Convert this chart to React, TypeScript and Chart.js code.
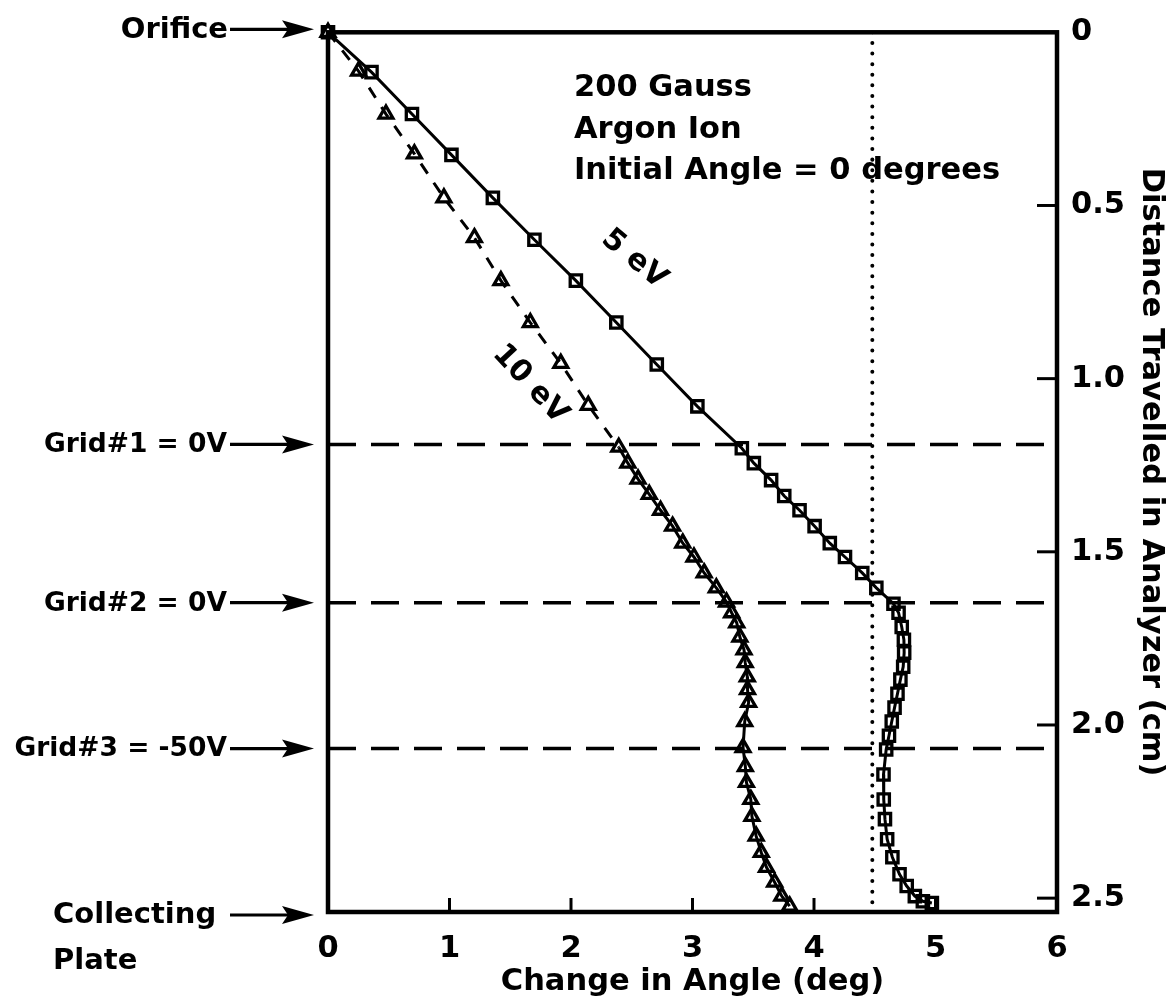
import React, { useEffect, useRef } from 'react';
import { Chart, registerables } from 'chart.js';

Chart.register(...registerables);

// ---- axes ----
const xTickValues = [0, 1, 2, 3, 4, 5, 6];
const yTickValues = [0, 0.5, 1.0, 1.5, 2.0, 2.5];
const xRange = [0, 6];
const yRange = [0, 2.54];

// ---- 5 eV trajectory (change in angle, deg / distance travelled, cm) ----
const ev5Angle = [
  0, 0.358, 0.691, 1.016, 1.357, 1.699, 2.04, 2.373, 2.706, 3.04,
  3.406, 3.505, 3.647, 3.755, 3.881, 4.005, 4.13, 4.255, 4.397, 4.513,
  4.654, 4.696, 4.722, 4.74, 4.742, 4.734, 4.711, 4.687, 4.663, 4.64,
  4.617, 4.594, 4.572, 4.574, 4.584, 4.602, 4.645, 4.704, 4.763, 4.83,
  4.896, 4.97,
];
const ev5Dist = [
  0, 0.115, 0.236, 0.354, 0.478, 0.599, 0.717, 0.838, 0.959, 1.08,
  1.201, 1.244, 1.293, 1.339, 1.38, 1.426, 1.475, 1.515, 1.561, 1.604,
  1.65, 1.676, 1.717, 1.754, 1.791, 1.832, 1.869, 1.91, 1.95, 1.99,
  2.031, 2.071, 2.143, 2.215, 2.272, 2.33, 2.382, 2.431, 2.465, 2.494,
  2.509, 2.514,
];

// ---- 10 eV trajectory ----
const ev10Angle = [
  0, 0.251, 0.477, 0.711, 0.954, 1.205, 1.423, 1.665, 1.916, 2.142,
  2.393, 2.468, 2.552, 2.644, 2.737, 2.836, 2.92, 3.012, 3.096, 3.196,
  3.28, 3.322, 3.364, 3.39, 3.424, 3.434, 3.451, 3.453, 3.462, 3.43,
  3.416, 3.435, 3.444, 3.48, 3.489, 3.524, 3.566, 3.609, 3.676, 3.735,
  3.8,
];
const ev10Dist = [
  0, 0.112, 0.236, 0.351, 0.478, 0.593, 0.717, 0.838, 0.956, 1.077,
  1.198, 1.244, 1.29, 1.334, 1.38, 1.426, 1.475, 1.515, 1.561, 1.604,
  1.645, 1.676, 1.705, 1.746, 1.783, 1.82, 1.861, 1.898, 1.935, 1.99,
  2.065, 2.12, 2.166, 2.215, 2.264, 2.321, 2.368, 2.411, 2.454, 2.494,
  2.523,
];
const ev10DashedUntil = 10; // last point index of the dashed (field-free) part

// ---- grids / limit ----
const gridDist = [1.19, 1.647, 2.068];
const gridNames = ['Grid#1 = 0V', 'Grid#2 = 0V', 'Grid#3 = -50V'];
const limitAngle = [4.48];

// ---- texts ----
const infoText = ['200 Gauss', 'Argon Ion', 'Initial Angle = 0 degrees'];
const seriesNames = ['5 eV', '10 eV'];
const orificeName = 'Orifice';
const plateName = ['Collecting', 'Plate'];
const xTitle = 'Change in Angle (deg)';
const yTitle = 'Distance Travelled in Analyzer (cm)';

const FAMILY = '"DejaVu Sans", "Noto Sans", sans-serif';

function drawArrow(ctx: CanvasRenderingContext2D, x0: number, x1: number, y: number) {
  ctx.beginPath();
  ctx.lineWidth = 3.2;
  ctx.moveTo(x0, y);
  ctx.lineTo(x1 - 24, y);
  ctx.stroke();
  ctx.beginPath();
  ctx.moveTo(x1, y);
  ctx.lineTo(x1 - 32, y - 9);
  ctx.lineTo(x1 - 26, y);
  ctx.lineTo(x1 - 32, y + 9);
  ctx.closePath();
  ctx.fill();
}

const framePlugin = {
  id: 'frameAndNotes',
  afterDraw(chart: any) {
    const ctx: CanvasRenderingContext2D = chart.ctx;
    const a = chart.chartArea;
    const xs = chart.scales.x;
    const ys = chart.scales.y;
    ctx.save();
    ctx.strokeStyle = '#000';
    ctx.fillStyle = '#000';
    ctx.lineCap = 'butt';

    // frame
    ctx.lineWidth = 4.5;
    ctx.strokeRect(a.left, a.top, a.right - a.left, a.bottom - a.top);

    // inward tick marks
    ctx.lineWidth = 3;
    xTickValues.slice(1, -1).forEach((v) => {
      const px = xs.getPixelForValue(v);
      ctx.beginPath();
      ctx.moveTo(px, a.bottom);
      ctx.lineTo(px, a.bottom - 14);
      ctx.stroke();
    });
    yTickValues.slice(1).forEach((v) => {
      const py = ys.getPixelForValue(v);
      ctx.beginPath();
      ctx.moveTo(a.right, py);
      ctx.lineTo(a.right - 20, py);
      ctx.stroke();
    });

    // info block
    ctx.font = `bold 30.5px ${FAMILY}`;
    ctx.textAlign = 'left';
    ctx.textBaseline = 'alphabetic';
    infoText.forEach((t, i) => ctx.fillText(t, a.left + 246, a.top + 64 + i * 41.5));

    // series labels (rotated)
    const rot = [40, 47];
    const pos = [
      [a.left + 306, a.top + 227],
      [a.left + 202, a.top + 352],
    ];
    seriesNames.forEach((t, i) => {
      ctx.save();
      ctx.translate(pos[i][0], pos[i][1]);
      ctx.rotate((rot[i] * Math.PI) / 180);
      ctx.textAlign = 'center';
      ctx.textBaseline = 'middle';
      ctx.font = `bold 30px ${FAMILY}`;
      ctx.fillText(t, 0, 0);
      ctx.restore();
    });

    // left annotations with arrows
    const tip = a.left - 14;
    const arrowStart = tip - 84;
    ctx.textAlign = 'right';
    ctx.textBaseline = 'middle';
    ctx.font = `bold 29px ${FAMILY}`;
    const yO = ys.getPixelForValue(0) - 3;
    ctx.fillText(orificeName, arrowStart - 2, yO + 1);
    drawArrow(ctx, arrowStart, tip, yO);

    ctx.font = `bold 26.5px ${FAMILY}`;
    gridDist.forEach((d, i) => {
      const py = ys.getPixelForValue(d);
      ctx.fillText(gridNames[i], arrowStart - 3, py + 1);
      drawArrow(ctx, arrowStart, tip, py);
    });

    ctx.font = `bold 29px ${FAMILY}`;
    ctx.textAlign = 'left';
    const yP = a.bottom + 3;
    ctx.fillText(plateName[0], 53, yP);
    ctx.fillText(plateName[1], 53, yP + 46);
    drawArrow(ctx, arrowStart, tip, yP);

    ctx.restore();
  },
};

export default function App() {
  const canvasRef = useRef<HTMLCanvasElement | null>(null);

  useEffect(() => {
    document.body.style.margin = '0';
    const canvas = canvasRef.current;
    if (!canvas) return;

    const pts = (xs: number[], ys: number[]) => xs.map((x, i) => ({ x, y: ys[i] }));

    const datasets: any[] = [
      {
        label: seriesNames[0],
        data: pts(ev5Angle, ev5Dist),
        showLine: true,
        borderColor: '#000',
        borderWidth: 3,
        pointStyle: 'rect',
        pointRadius: 8,
        pointBorderWidth: 3.3,
        pointBorderColor: '#000',
        pointBackgroundColor: 'rgba(255,255,255,0)',
        tension: 0,
        clip: false,
      },
      {
        label: seriesNames[1],
        data: pts(ev10Angle, ev10Dist),
        showLine: true,
        borderColor: '#000',
        borderWidth: 3,
        pointStyle: 'triangle',
        pointRadius: 8,
        pointBorderWidth: 3.3,
        pointBorderColor: '#000',
        pointBackgroundColor: 'rgba(255,255,255,0)',
        tension: 0,
        clip: false,
        segment: {
          borderDash: (c: any) => (c.p1DataIndex <= ev10DashedUntil ? [12, 11] : []),
        },
      },
      {
        label: 'limit',
        data: [
          { x: limitAngle[0], y: yRange[0] },
          { x: limitAngle[0], y: yRange[1] },
        ],
        showLine: true,
        borderColor: '#000',
        borderWidth: 4,
        borderDash: [0.01, 10.6],
        borderCapStyle: 'round',
        pointRadius: 0,
      },
      ...gridDist.map((d, i) => ({
        label: gridNames[i],
        data: [
          { x: xRange[0], y: d },
          { x: xRange[1], y: d },
        ],
        showLine: true,
        borderColor: '#000',
        borderWidth: 3.6,
        borderDash: [28, 15],
        pointRadius: 0,
      })),
    ];

    const tickFont = { family: FAMILY, size: 30.5, weight: 'bold' as const };

    const chart = new Chart(canvas, {
      type: 'scatter',
      data: { datasets },
      plugins: [framePlugin],
      options: {
        animation: false,
        responsive: false,
        devicePixelRatio: 1,
        events: [],
        layout: { padding: { left: 328, top: 31, right: 0, bottom: 0 } },
        plugins: {
          legend: { display: false },
          tooltip: { enabled: false },
        },
        scales: {
          x: {
            type: 'linear',
            position: 'bottom',
            min: xRange[0],
            max: xRange[1],
            grid: { display: false, drawTicks: false },
            border: { display: false },
            afterBuildTicks: (s: any) => {
              s.ticks = xTickValues.map((v) => ({ value: v }));
            },
            afterFit: (s: any) => {
              s.height = 93;
            },
            ticks: {
              color: '#000',
              font: tickFont,
              padding: 19,
              maxRotation: 0,
              callback: (v: any) => String(v),
            },
            title: {
              display: true,
              text: xTitle,
              color: '#000',
              font: tickFont,
              padding: { top: 0, bottom: 5 },
            },
          },
          y: {
            type: 'linear',
            position: 'right',
            reverse: true,
            min: yRange[0],
            max: yRange[1],
            grid: { display: false, drawTicks: false },
            border: { display: false },
            afterBuildTicks: (s: any) => {
              s.ticks = yTickValues.map((v) => ({ value: v }));
            },
            afterFit: (s: any) => {
              s.width = 116;
            },
            ticks: {
              color: '#000',
              font: tickFont,
              padding: 14,
              callback: (v: any) => (Number(v) === 0 ? '0' : Number(v).toFixed(1)),
            },
            title: {
              display: true,
              text: yTitle,
              color: '#000',
              font: tickFont,
              padding: { top: 4, bottom: 0 },
            },
          },
        },
      } as any,
    });

    return () => chart.destroy();
  }, []);

  return (
    <div style={{ width: 1173, height: 1005, background: '#fff' }}>
      <canvas ref={canvasRef} width={1173} height={1005} style={{ display: 'block' }} />
    </div>
  );
}
